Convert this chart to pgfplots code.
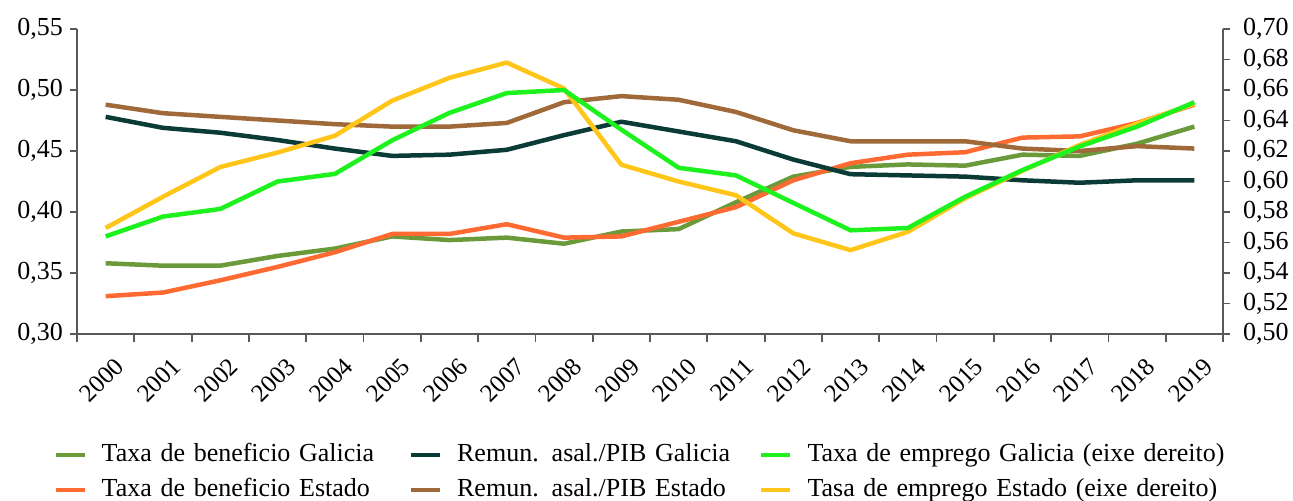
\documentclass[border=0pt]{standalone}
\usepackage{fontspec}
\setmainfont{Liberation Serif}
\usepackage{pgfplots}
\pgfplotsset{compat=1.18}

\definecolor{axgray}{HTML}{595959}
\definecolor{cOlive}{HTML}{6A9A3A}
\definecolor{cOrange}{HTML}{FF6A33}
\definecolor{cTeal}{HTML}{0A3B36}
\definecolor{cBrown}{HTML}{A0693A}
\definecolor{cGreen}{HTML}{1EF21E}
\definecolor{cYellow}{HTML}{FFC619}

\pgfplotsset{
  base/.style={
    at={(0,0)}, anchor=south west, scale only axis,
    width=573pt, height=152.5pt,
    xmin=-0.5, xmax=19.5,
    axis line style={draw=axgray, line width=1pt, -},
    tick style={draw=axgray, line width=0.9pt},
    tick align=outside,
    major tick length=3.5pt,
    minor tick length=4pt,
    ticklabel style={font=\fontsize{13}{15}\selectfont},
    /pgf/number format/.cd, use comma, fixed, fixed zerofill, precision=2, assume math mode=true,
  },
  ln/.style={line width=2.25pt, line join=round},
}

\begin{document}
\begin{tikzpicture}
% eixe esquerdo
\begin{axis}[base,
    axis x line*=bottom, axis y line*=left,
    ymin=0.30, ymax=0.55,
    ytick={0.30,0.35,0.40,0.45,0.50,0.55},
    xtick={0,...,19},
    xticklabels={2000,2001,2002,2003,2004,2005,2006,2007,2008,2009,2010,2011,2012,2013,2014,2015,2016,2017,2018,2019},
    every major x tick/.append style={draw=none},
    minor xtick={-0.5,0.5,...,19.5},
    xticklabel style={rotate=45, anchor=north east, inner sep=1pt, xshift=-1.5pt, yshift=-7pt,
      font=\fontsize{12.5}{14}\selectfont},
]
\addplot[ln, cOlive] coordinates {(0,0.358)(1,0.356)(2,0.356)(3,0.364)(4,0.370)(5,0.380)(6,0.377)(7,0.379)(8,0.374)(9,0.384)(10,0.386)(11,0.408)(12,0.429)(13,0.437)(14,0.439)(15,0.438)(16,0.447)(17,0.446)(18,0.456)(19,0.470)};
\addplot[ln, cOrange] coordinates {(0,0.331)(1,0.334)(2,0.344)(3,0.355)(4,0.367)(5,0.382)(6,0.382)(7,0.390)(8,0.379)(9,0.380)(10,0.392)(11,0.404)(12,0.426)(13,0.440)(14,0.447)(15,0.449)(16,0.461)(17,0.462)(18,0.473)(19,0.488)};
\addplot[ln, cTeal] coordinates {(0,0.478)(1,0.469)(2,0.465)(3,0.459)(4,0.452)(5,0.446)(6,0.447)(7,0.451)(8,0.463)(9,0.474)(10,0.466)(11,0.458)(12,0.443)(13,0.431)(14,0.430)(15,0.429)(16,0.426)(17,0.424)(18,0.426)(19,0.426)};
\addplot[ln, cBrown] coordinates {(0,0.488)(1,0.481)(2,0.478)(3,0.475)(4,0.472)(5,0.470)(6,0.470)(7,0.473)(8,0.490)(9,0.495)(10,0.492)(11,0.482)(12,0.467)(13,0.458)(14,0.458)(15,0.458)(16,0.452)(17,0.450)(18,0.454)(19,0.452)};
\end{axis}
% eixe dereito
\begin{axis}[base,
    axis x line=none, axis y line*=right,
    ymin=0.50, ymax=0.70,
    ytick={0.50,0.52,0.54,0.56,0.58,0.60,0.62,0.64,0.66,0.68,0.70},
    yticklabel style={xshift=3pt},
    legend columns=3,
    legend cell align=left,
    legend image code/.code={\draw[#1] (0pt,0pt) -- (14.5pt,0pt);},
    legend style={at={(-0.021,-0.343)}, anchor=north west, draw=none, fill=none,
      inner sep=0pt, row sep=1.6pt,
      font=\fontsize{13}{15}\selectfont,
      nodes={inner sep=2pt, text width=151.5pt, text height=9pt, text depth=2.9pt},
      /tikz/column 4/.append style={nodes={text width=149pt}},
      /tikz/column 6/.append style={nodes={text width=225pt}},
      /tikz/every odd column/.append style={column sep=5.5pt},
      /tikz/every even column/.append style={column sep=0pt}},
]
\addlegendimage{cOlive, line width=2.2pt}
\addlegendentry{Taxa de beneficio Galicia}
\addlegendimage{cTeal, line width=2.2pt}
\addlegendentry{Remun. asal./PIB Galicia}
\addlegendimage{cGreen, line width=2.2pt}
\addlegendentry{Taxa de emprego Galicia (eixe dereito)}
\addlegendimage{cOrange, line width=2.2pt}
\addlegendentry{Taxa de beneficio Estado}
\addlegendimage{cBrown, line width=2.2pt}
\addlegendentry{Remun. asal./PIB Estado}
\addlegendimage{cYellow, line width=2.2pt}
\addlegendentry{Tasa de emprego Estado (eixe dereito)}
\addplot[ln, cYellow, forget plot] coordinates {(0,0.5695)(1,0.590)(2,0.6095)(3,0.619)(4,0.630)(5,0.653)(6,0.668)(7,0.678)(8,0.661)(9,0.611)(10,0.600)(11,0.591)(12,0.566)(13,0.555)(14,0.567)(15,0.589)(16,0.607)(17,0.624)(18,0.638)(19,0.651)};
\addplot[ln, cGreen, forget plot] coordinates {(0,0.564)(1,0.577)(2,0.582)(3,0.600)(4,0.605)(5,0.627)(6,0.645)(7,0.658)(8,0.660)(9,0.634)(10,0.609)(11,0.604)(12,0.586)(13,0.568)(14,0.5695)(15,0.590)(16,0.6075)(17,0.623)(18,0.636)(19,0.652)};
\end{axis}
\pgfresetboundingbox
\path (-38.5pt,-83pt) rectangle (608pt,167pt);
\end{tikzpicture}
\end{document}
